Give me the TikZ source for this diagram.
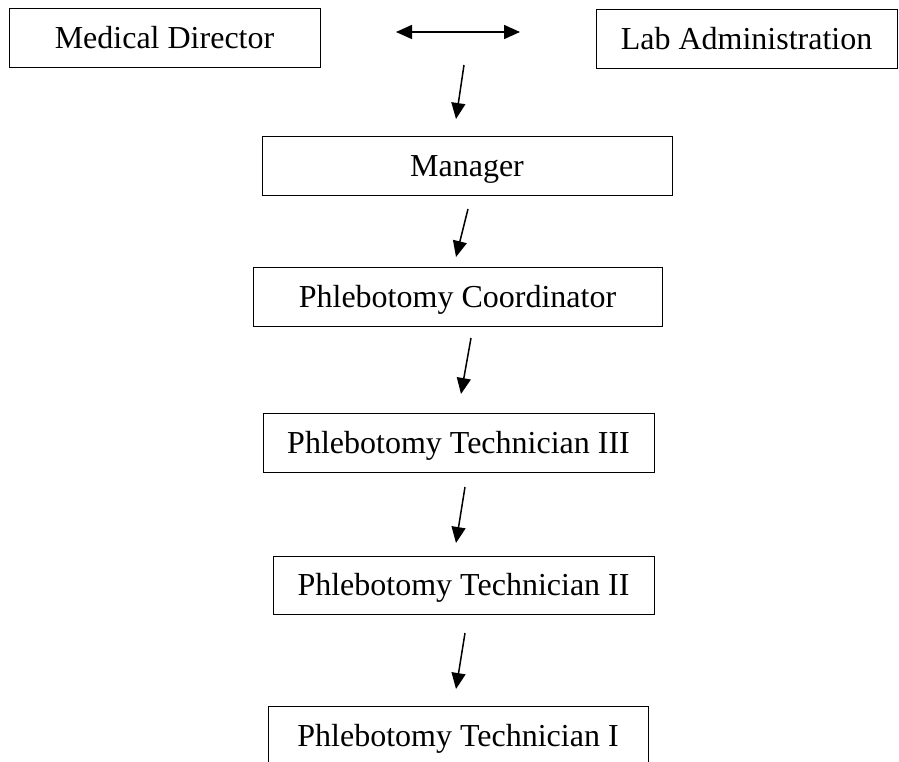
\documentclass[tikz,border=0pt]{standalone}
\usepackage{fontspec}
\setmainfont{Liberation Serif}
\usetikzlibrary{arrows.meta}
\begin{document}
\begin{tikzpicture}[x=1pt,y=-1pt,
  box/.style={draw,line width=1pt,rectangle,inner sep=0pt,text height=21pt,text depth=0pt,font=\fontsize{32}{38}\selectfont},
  conn/.style={line width=1.5pt,-{Triangle[length=16pt,width=14pt]}},
  dconn/.style={line width=1.5pt,{Triangle[length=16pt,width=14pt]}-{Triangle[length=16pt,width=14pt]}}]
\clip (0,0) rectangle (899,762);
\fill[white] (0,0) rectangle (899,762);
\node[box,minimum width=311pt,minimum height=59pt] (md) at (164.5,38.5) {Medical Director};
\node[box,minimum width=301pt,minimum height=59pt] (la) at (746.5,39.5) {Lab Administration};
\node[box,minimum width=410pt,minimum height=59pt] (mg) at (467,166.5) {Manager};
\node[box,minimum width=409pt,minimum height=59pt] (pc) at (457.5,296.5) {Phlebotomy Coordinator};
\node[box,minimum width=391pt,minimum height=59pt] (t3) at (458.5,442.5) {Phlebotomy Technician III};
\node[box,minimum width=381pt,minimum height=58pt] (t2) at (463.5,585) {Phlebotomy Technician II};
\node[box,minimum width=380pt,minimum height=59pt] (t1) at (458,736) {Phlebotomy Technician I};
\coordinate (dl) at (396,32);
\coordinate (dr) at (520,32);
\coordinate (a1s) at (464,65);
\coordinate (a1e) at (456,119);
\coordinate (a2s) at (468,209);
\coordinate (a2e) at (456,257);
\coordinate (a3s) at (471,338);
\coordinate (a3e) at (461,394);
\coordinate (a4s) at (465,487);
\coordinate (a4e) at (456,543);
\coordinate (a5s) at (465,633);
\coordinate (a5e) at (456,689);
\draw[dconn] (dl) -- (dr);
\draw[conn] (a1s) -- (a1e);
\draw[conn] (a2s) -- (a2e);
\draw[conn] (a3s) -- (a3e);
\draw[conn] (a4s) -- (a4e);
\draw[conn] (a5s) -- (a5e);
\end{tikzpicture}
\end{document}
